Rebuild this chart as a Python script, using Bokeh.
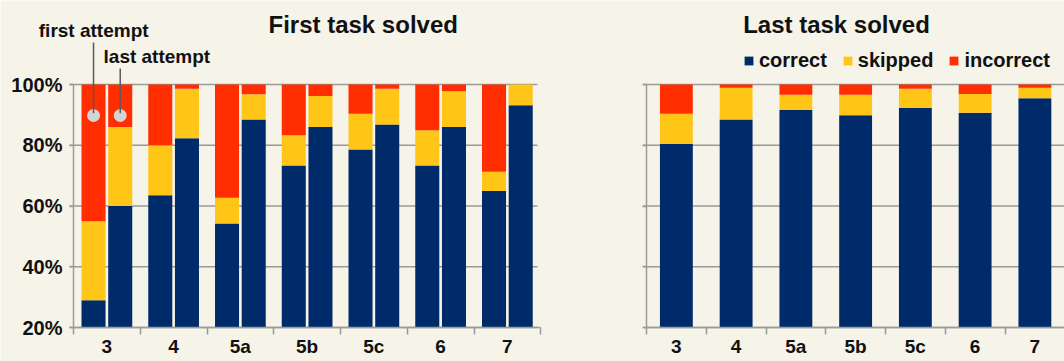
from bokeh.plotting import figure
from bokeh.models import (ColumnDataSource, Range1d, FixedTicker, PrintfTickFormatter,
                          Label, Legend, LegendItem, Arrow, LinearAxis)
from bokeh.transform import stack
from bokeh.embed import file_html
from bokeh.resources import INLINE

categories = ["3", "4", "5a", "5b", "5c", "6", "7"]

# First task solved: first attempt
first_correct = [29.0, 63.5, 54.2, 73.3, 78.6, 73.3, 64.9]
first_skipped = [26.0, 16.5, 8.5, 10.0, 11.8, 11.6, 6.4]
first_incorrect = [45.0, 20.0, 37.3, 16.7, 9.6, 15.1, 28.7]
# First task solved: last attempt
last_correct = [60.0, 82.3, 88.5, 86.0, 86.8, 86.0, 93.2]
last_skipped = [26.0, 16.3, 8.3, 10.2, 11.8, 11.8, 6.8]
last_incorrect = [14.0, 1.4, 3.2, 3.8, 1.4, 2.2, 0.0]
# Last task solved
lt_correct = [80.5, 88.5, 91.6, 89.9, 92.3, 90.7, 95.5]
lt_skipped = [9.9, 10.4, 5.0, 6.7, 6.3, 6.2, 3.4]
lt_incorrect = [9.6, 1.1, 3.4, 3.4, 1.4, 3.1, 1.1]

y_ticks = [20, 40, 60, 80, 100]
series = ["correct", "skipped", "incorrect"]
colors = ["#002B6B", "#FFC517", "#FF2D00"]

BG = "#F6F3E9"
GRID = "#9A9A9A"
FONT = "Liberation Sans"
W, H = 1064, 361
Y_MIN = 20
PX_PER_PCT = 3.0375
Y_TOP = 100 + 84 / PX_PER_PCT          # headroom above 100% for titles and legend
Y_BOTTOM = Y_MIN - 34 / PX_PER_PCT     # room below the 20% baseline for category labels

# panel geometry (pixels): left panel axis at 73, 66.75 px per category;
# right panel axis at 646, 59.75 px per category
L0, LC = 73, 66.75
R0, RC = 646, 59.75

centers = [i + 0.5 for i in range(len(categories))]

p = figure(width=W, height=H, output_backend="svg", toolbar_location=None,
           x_range=Range1d(-L0 / LC, (W - L0) / LC), y_range=Range1d(Y_BOTTOM, Y_TOP),
           x_axis_location=None, y_axis_location=None,
           min_border_left=0, min_border_right=0, min_border_top=0, min_border_bottom=0)
p.extra_x_ranges = {"r": Range1d(-R0 / RC, (W - R0) / RC)}
p.background_fill_color = BG
p.border_fill_color = BG
p.outline_line_color = None
p.grid.visible = False


def panel(rng, show_ylabels, grid_end):
    # horizontal grid lines
    n = len(y_ticks)
    p.segment(x0=[-0.06] * n, x1=[grid_end] * n, y0=y_ticks, y1=y_ticks,
              line_color=GRID, line_width=1.5, x_range_name=rng)
    yax = LinearAxis(fixed_location=0, x_range_name=rng)
    yax.bounds = (Y_MIN, 100)
    yax.ticker = FixedTicker(ticks=y_ticks)
    yax.formatter = PrintfTickFormatter(format="%d%%")
    yax.axis_line_color = GRID
    yax.axis_line_width = 1.5
    yax.major_tick_line_color = GRID
    yax.major_tick_line_width = 1.5
    yax.major_tick_in = 0
    yax.major_tick_out = 4
    yax.minor_tick_line_color = None
    yax.major_label_text_font = FONT
    yax.major_label_text_font_style = "bold"
    yax.major_label_text_font_size = "20px"
    yax.major_label_text_color = "#111111"
    yax.major_label_standoff = 7
    if not show_ylabels:
        yax.major_label_text_alpha = 0
    p.add_layout(yax, "left")
    xax = LinearAxis(fixed_location=Y_MIN, x_range_name=rng)
    xax.bounds = (0, 7)
    xax.ticker = FixedTicker(ticks=centers,
                             minor_ticks=[float(i) for i in range(len(categories) + 1)])
    xax.major_label_overrides = {c: lab for c, lab in zip(centers, categories)}
    xax.axis_line_color = GRID
    xax.axis_line_width = 1.5
    xax.major_tick_line_color = None
    xax.major_tick_in = 0
    xax.major_tick_out = 0
    xax.minor_tick_line_color = GRID
    xax.minor_tick_line_width = 1.5
    xax.minor_tick_in = 0
    xax.minor_tick_out = 7
    xax.major_label_text_font = FONT
    xax.major_label_text_font_style = "bold"
    xax.major_label_text_font_size = "19px"
    xax.major_label_text_color = "#111111"
    xax.major_label_standoff = 1
    p.add_layout(xax, "below")


def stacked(source, width, rng):
    rends = []
    for k, name in enumerate(series):
        bottom = Y_MIN if k == 0 else stack(*series[:k])
        r = p.vbar(x="x", width=width, bottom=bottom, top=stack(*series[:k + 1]),
                   color=colors[k], line_color=None, source=source, x_range_name=rng)
        rends.append(r)
    return rends


def txt(x, y, s, size, rng="default", align="left"):
    p.add_layout(Label(x=x, y=y, text=s, text_align=align, text_baseline="alphabetic",
                       text_font=FONT, text_font_style="bold", text_font_size=size,
                       text_color="#111111", x_range_name=rng))


# ---------------- left panel: First task solved ----------------
panel("default", True, 6.95)
src_first = ColumnDataSource(dict(x=[c - 0.2 for c in centers], correct=first_correct,
                                  skipped=first_skipped, incorrect=first_incorrect))
src_last = ColumnDataSource(dict(x=[c + 0.2 for c in centers], correct=last_correct,
                                 skipped=last_skipped, incorrect=last_incorrect))
stacked(src_first, 0.36, "default")
stacked(src_last, 0.36, "default")

txt(4.34, 119.8, "First task solved", "24px", align="center")
txt(-0.52, 117.9, "first attempt", "19px")
txt(0.45, 109.2, "last attempt", "19px")
p.add_layout(Arrow(end=None, x_start=0.3, y_start=113.8, x_end=0.3, y_end=90.5,
                   line_color="#5A5A5A", line_width=1.5))
p.add_layout(Arrow(end=None, x_start=0.7, y_start=105.3, x_end=0.7, y_end=90.5,
                   line_color="#5A5A5A", line_width=1.5))
p.scatter(x=[0.3, 0.7], y=[89.8, 89.8], size=13, color="#D4D4D4", line_color=None)

# ---------------- right panel: Last task solved ----------------
panel("r", False, 7.0)
src_lt = ColumnDataSource(dict(x=centers, correct=lt_correct, skipped=lt_skipped,
                               incorrect=lt_incorrect))
rs = stacked(src_lt, 0.55, "r")
txt(3.18, 119.8, "Last task solved", "24px", rng="r", align="center")
legend = Legend(items=[LegendItem(label=s, renderers=[r]) for s, r in zip(series, rs)],
                orientation="horizontal", location=(743, 289),
                background_fill_alpha=0, border_line_color=None,
                label_text_font=FONT, label_text_font_style="bold", label_text_font_size="20px",
                label_text_color="#111111", glyph_width=11, glyph_height=11,
                label_standoff=5, spacing=15, padding=0, margin=0)
p.add_layout(legend, "center")

open("out.html", "w").write(file_html(p, INLINE))
